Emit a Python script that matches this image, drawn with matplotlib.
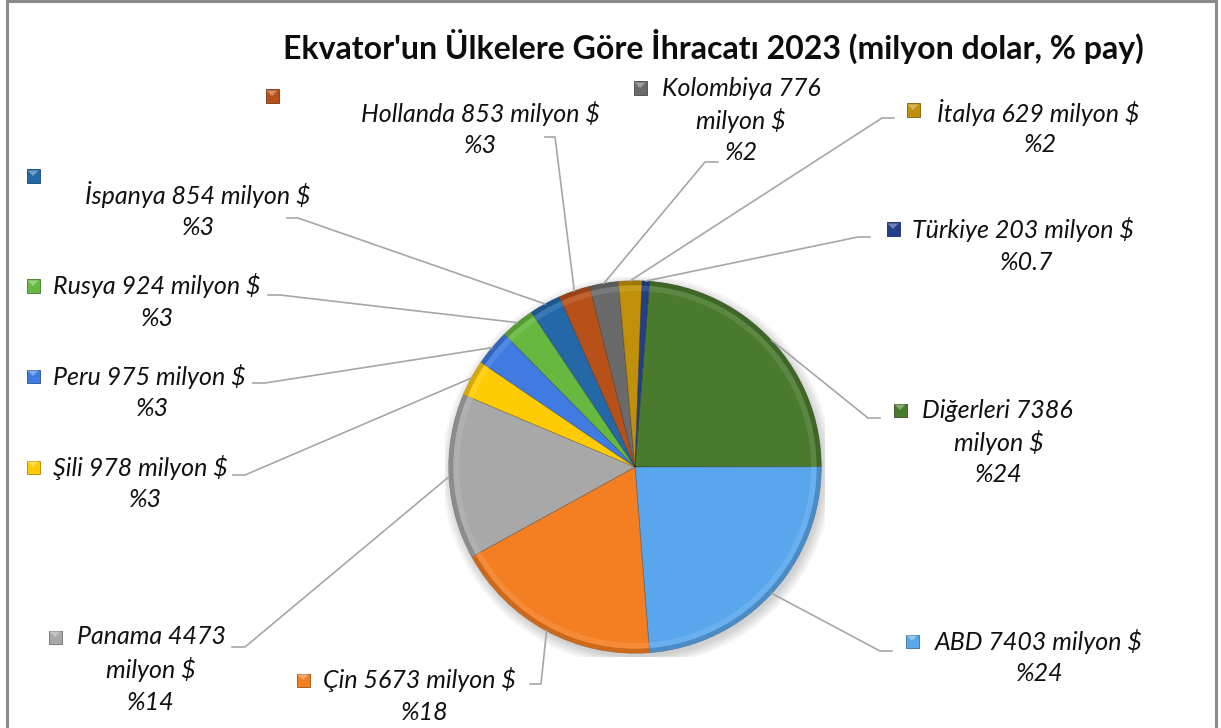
import numpy as np
import matplotlib.pyplot as plt
import matplotlib.colors as mcolors
from matplotlib.patches import Rectangle, Polygon, Wedge, Circle
from matplotlib.lines import Line2D

plt.rcParams['font.family'] = ['Lato', 'DejaVu Sans']

W, H = 1221, 728

# data (clockwise from the top of the pie)
countries = ["Diğerleri", "ABD", "Çin", "Panama", "Şili", "Peru", "Rusya",
             "İspanya", "Hollanda", "Kolombiya", "İtalya", "Türkiye"]
exports = [7386, 7403, 5673, 4473, 978, 975, 924, 854, 853, 776, 629, 203]
shares = ["%24", "%24", "%18", "%14", "%3", "%3", "%3", "%3", "%3", "%2", "%2", "%0.7"]
colors = ["#4a7a2e", "#5aa6ec", "#f47e22", "#a8a8a8", "#ffcb05", "#3f7be0",
          "#66b83e", "#2468a8", "#b8501a", "#6a6a6a", "#c0900a", "#233f8a"]
title = "Ekvator'un Ülkelere Göre İhracatı 2023 (milyon dolar, % pay)"

# labels that Excel wrapped on three lines
three_lines = {"Diğerleri", "Panama", "Kolombiya"}

# label layout in pixels: marker, left of first line (None = centred), centre x, first line y, leader tail
layout = {
    "Diğerleri": ((900, 410), 922, 999, 410, [(880, 418), (868, 418)]),
    "ABD":       ((912, 641), 935, 1040, 641, [(892, 651), (880, 651)]),
    "Çin":       ((303, 680), 323, 425, 680, [(530, 684), (541, 684)]),
    "Panama":    ((55, 637), 77, 151, 637, [(232, 647), (245, 647)]),
    "Şili":      ((33, 467), 53, 145, 467, [(233, 475), (245, 475)]),
    "Peru":      ((33, 376), 53, 152, 376, [(253, 383), (265, 383)]),
    "Rusya":     ((33, 286), 53, 157, 286, [(268, 295), (280, 295)]),
    "İspanya":   ((33, 176), None, 198, 195, [(287, 218), (298, 218)]),
    "Hollanda":  ((272, 96), None, 480, 113, [(545, 137), (555, 137)]),
    "Kolombiya": ((640, 88), 662, 741, 88, [(718, 162), (705, 162)]),
    "İtalya":    ((913, 110), 937, 1040, 112, [(894, 118), (882, 118)]),
    "Türkiye":   ((893, 229), 912, 1027, 230, [(870, 237), (858, 237)]),
}

def fx(x):
    return x / W

def fy(y):
    return 1 - y / H

def shade(c, f):
    rgb = np.array(mcolors.to_rgb(c))
    if f < 0:
        return tuple(rgb * (1 + f))
    return tuple(rgb + (1 - rgb) * f)

fig = plt.figure(figsize=(W / 100, H / 100), dpi=100)

# pie
cx, cy, r = 635, 467, 190
ax = fig.add_axes([fx(cx - r), fy(cy + r), 2 * r / W, 2 * r / H])
for k in range(6):
    ax.add_patch(Circle((0.012, -0.02), 1.0 + 0.01 * k, color="#000000", alpha=0.03, lw=0, zorder=0))
wedges, _ = ax.pie(exports, colors=colors, startangle=85.5, counterclock=False, radius=1,
                   wedgeprops=dict(edgecolor=(0, 0, 0, 0.25), linewidth=0.6))
for w, c in zip(wedges, colors):
    w.set_zorder(2)
    ax.add_patch(Wedge((0, 0), 1.0, w.theta1, w.theta2, width=0.025, color=shade(c, -0.2), lw=0, alpha=0.8, zorder=3))
    ax.add_patch(Wedge((0, 0), 0.975, w.theta1, w.theta2, width=0.03, color=shade(c, 0.2), lw=0, alpha=0.5, zorder=3))
ax.set_xlim(-1.02, 1.02)
ax.set_ylim(-1.02, 1.02)
ax.set_aspect('auto')
ax.axis('off')

# title
fig.text(fx(713), fy(46), title, ha='center', va='center', fontsize=23, fontweight='bold', color='#0d0d0d')

# labels, markers and leader lines
inv = fig.transFigure.inverted()
line_h = 32.5
for name, val, pct, c, w in zip(countries, exports, shares, colors, wedges):
    (mx, my), x1, tcx, y1, tail = layout[name]
    if name in three_lines:
        lines = [f"{name} {val}", "milyon $", pct]
    else:
        lines = [f"{name} {val} milyon $", pct]
    for i, txt in enumerate(lines):
        y = y1 + i * line_h
        if i == 0 and x1 is not None:
            fig.text(fx(x1), fy(y), txt, ha='left', va='center', fontsize=18, style='italic', color='#111111')
        else:
            fig.text(fx(tcx), fy(y), txt, ha='center', va='center', fontsize=18, style='italic', color='#111111')
    s = 13
    fig.add_artist(Rectangle((fx(mx - s / 2), fy(my + s / 2)), s / W, s / H, transform=fig.transFigure,
                             facecolor=c, edgecolor=shade(c, -0.35), lw=0.6))
    fig.add_artist(Polygon([(fx(mx - s / 2 + 1), fy(my - s / 2 + 1)), (fx(mx + s / 2 - 1), fy(my - s / 2 + 1)),
                            (fx(mx), fy(my))], closed=True, transform=fig.transFigure,
                           facecolor=shade(c, 0.35), lw=0))
    mid = np.deg2rad((w.theta1 + w.theta2) / 2)
    px, py = inv.transform(ax.transData.transform((np.cos(mid), np.sin(mid))))
    xs = [fx(tail[0][0]), fx(tail[1][0]), px]
    ys = [fy(tail[0][1]), fy(tail[1][1]), py]
    fig.add_artist(Line2D(xs, ys, transform=fig.transFigure, color='#a6a6a6', lw=1.2))

# chart frame
fig.add_artist(Rectangle((fx(6.5), -0.05), fx(1215.5 - 6.5), 1.05 - 1.5 / H, transform=fig.transFigure,
                         fill=False, edgecolor='#8a8a8a', lw=2.2))

fig.savefig("out.png", dpi=100)
